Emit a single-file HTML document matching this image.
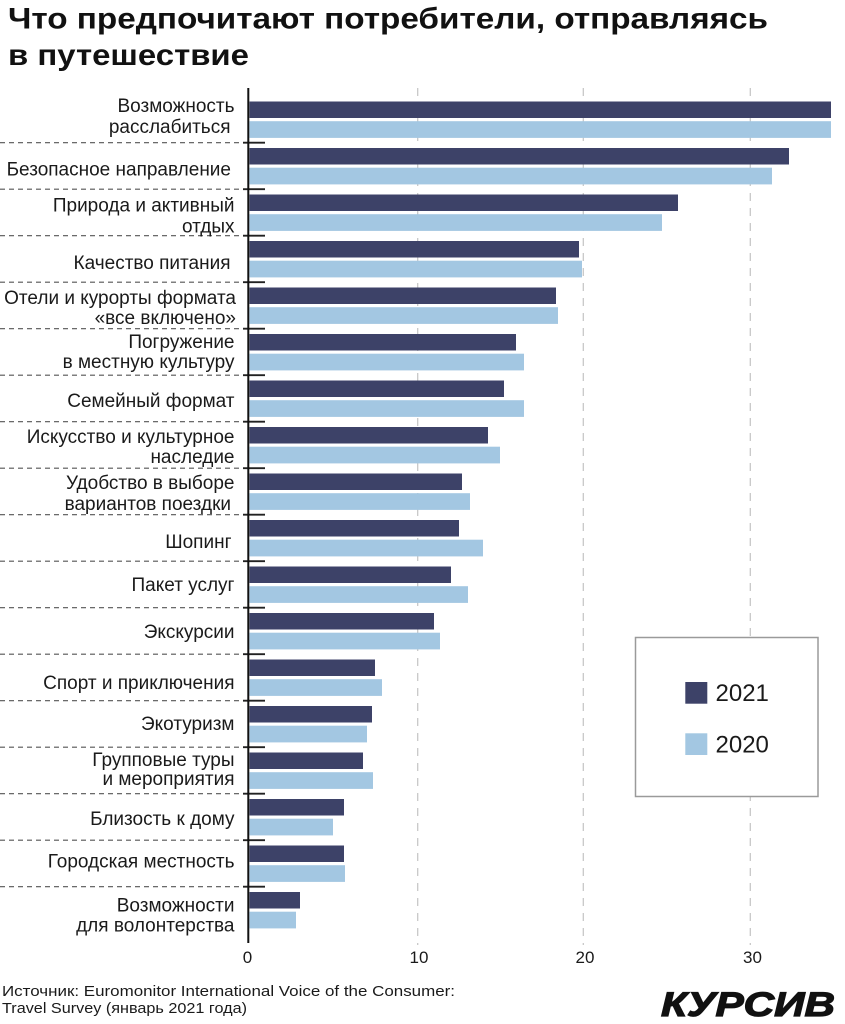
<!DOCTYPE html>
<html>
<head>
<meta charset="utf-8">
<style>
html,body{margin:0;padding:0;background:#fff;}
svg{display:block;}
text{font-family:"Liberation Sans","DejaVu Sans",sans-serif;}
</style>
</head>
<body>
<svg width="845" height="1024" viewBox="0 0 845 1024" xmlns="http://www.w3.org/2000/svg">
<rect width="845" height="1024" fill="#fff"/>

<!-- Title -->
<text x="8" y="28.5" font-size="30" font-weight="bold" fill="#111" textLength="760" lengthAdjust="spacingAndGlyphs">Что предпочитают потребители, отправляясь</text>
<text x="8" y="65" font-size="30" font-weight="bold" fill="#111" textLength="241" lengthAdjust="spacingAndGlyphs">в путешествие</text>

<!-- Gridlines -->
<g stroke="#c8c8c8" stroke-width="1.3" stroke-dasharray="8 7">
<line x1="417.7" y1="88" x2="417.7" y2="945"/>
<line x1="583.3" y1="88" x2="583.3" y2="945"/>
<line x1="750.3" y1="88" x2="750.3" y2="945"/>
</g>

<!-- Separators -->
<g stroke="#555" stroke-width="1.2" stroke-dasharray="5 4">
<line x1="0" y1="142.7" x2="242" y2="142.7"/>
<line x1="0" y1="189.2" x2="242" y2="189.2"/>
<line x1="0" y1="235.7" x2="242" y2="235.7"/>
<line x1="0" y1="282.2" x2="242" y2="282.2"/>
<line x1="0" y1="328.7" x2="242" y2="328.7"/>
<line x1="0" y1="375.2" x2="242" y2="375.2"/>
<line x1="0" y1="421.7" x2="242" y2="421.7"/>
<line x1="0" y1="468.2" x2="242" y2="468.2"/>
<line x1="0" y1="514.7" x2="242" y2="514.7"/>
<line x1="0" y1="561.2" x2="242" y2="561.2"/>
<line x1="0" y1="607.7" x2="242" y2="607.7"/>
<line x1="0" y1="654.2" x2="242" y2="654.2"/>
<line x1="0" y1="700.7" x2="242" y2="700.7"/>
<line x1="0" y1="747.2" x2="242" y2="747.2"/>
<line x1="0" y1="793.7" x2="242" y2="793.7"/>
<line x1="0" y1="840.2" x2="242" y2="840.2"/>
<line x1="0" y1="886.7" x2="242" y2="886.7"/>
</g>
<g stroke="#222" stroke-width="1.8">
<line x1="243" y1="142.7" x2="265" y2="142.7"/>
<line x1="243" y1="189.2" x2="265" y2="189.2"/>
<line x1="243" y1="235.7" x2="265" y2="235.7"/>
<line x1="243" y1="282.2" x2="265" y2="282.2"/>
<line x1="243" y1="328.7" x2="265" y2="328.7"/>
<line x1="243" y1="375.2" x2="265" y2="375.2"/>
<line x1="243" y1="421.7" x2="265" y2="421.7"/>
<line x1="243" y1="468.2" x2="265" y2="468.2"/>
<line x1="243" y1="514.7" x2="265" y2="514.7"/>
<line x1="243" y1="561.2" x2="265" y2="561.2"/>
<line x1="243" y1="607.7" x2="265" y2="607.7"/>
<line x1="243" y1="654.2" x2="265" y2="654.2"/>
<line x1="243" y1="700.7" x2="265" y2="700.7"/>
<line x1="243" y1="747.2" x2="265" y2="747.2"/>
<line x1="243" y1="793.7" x2="265" y2="793.7"/>
<line x1="243" y1="840.2" x2="265" y2="840.2"/>
<line x1="243" y1="886.7" x2="265" y2="886.7"/>
</g>

<!-- Bars 2021 -->
<g fill="#3d4268">
<rect x="249.5" y="101.5" width="581.5" height="16.5"/>
<rect x="249.5" y="148.0" width="539.5" height="16.5"/>
<rect x="249.5" y="194.5" width="428.5" height="16.5"/>
<rect x="249.5" y="241.0" width="329.5" height="16.5"/>
<rect x="249.5" y="287.5" width="306.5" height="16.5"/>
<rect x="249.5" y="334.0" width="266.5" height="16.5"/>
<rect x="249.5" y="380.5" width="254.5" height="16.5"/>
<rect x="249.5" y="427.0" width="238.5" height="16.5"/>
<rect x="249.5" y="473.5" width="212.5" height="16.5"/>
<rect x="249.5" y="520.0" width="209.5" height="16.5"/>
<rect x="249.5" y="566.5" width="201.5" height="16.5"/>
<rect x="249.5" y="613.0" width="184.5" height="16.5"/>
<rect x="249.5" y="659.5" width="125.5" height="16.5"/>
<rect x="249.5" y="706.0" width="122.5" height="16.5"/>
<rect x="249.5" y="752.5" width="113.5" height="16.5"/>
<rect x="249.5" y="799.0" width="94.5" height="16.5"/>
<rect x="249.5" y="845.5" width="94.5" height="16.5"/>
<rect x="249.5" y="892.0" width="50.5" height="16.5"/>
</g>
<!-- Bars 2020 -->
<g fill="#a3c7e2">
<rect x="249.5" y="121.2" width="581.5" height="16.7"/>
<rect x="249.5" y="167.7" width="522.5" height="16.7"/>
<rect x="249.5" y="214.2" width="412.5" height="16.7"/>
<rect x="249.5" y="260.7" width="332.5" height="16.7"/>
<rect x="249.5" y="307.2" width="308.5" height="16.7"/>
<rect x="249.5" y="353.7" width="274.5" height="16.7"/>
<rect x="249.5" y="400.2" width="274.5" height="16.7"/>
<rect x="249.5" y="446.7" width="250.5" height="16.7"/>
<rect x="249.5" y="493.2" width="220.5" height="16.7"/>
<rect x="249.5" y="539.7" width="233.5" height="16.7"/>
<rect x="249.5" y="586.2" width="218.5" height="16.7"/>
<rect x="249.5" y="632.7" width="190.5" height="16.7"/>
<rect x="249.5" y="679.2" width="132.5" height="16.7"/>
<rect x="249.5" y="725.7" width="117.5" height="16.7"/>
<rect x="249.5" y="772.2" width="123.5" height="16.7"/>
<rect x="249.5" y="818.7" width="83.5" height="16.7"/>
<rect x="249.5" y="865.2" width="95.5" height="16.7"/>
<rect x="249.5" y="911.7" width="46.5" height="16.7"/>
</g>

<!-- Axis -->
<line x1="248.3" y1="88" x2="248.3" y2="943" stroke="#111" stroke-width="2"/>

<!-- Category labels -->
<g font-size="19" fill="#1a1a1a" text-anchor="end">
<text x="234.5" y="112">Возможность</text>
<text x="230.5" y="133">расслабиться</text>
<text x="231" y="175.5">Безопасное направление</text>
<text x="234.5" y="211.5">Природа и активный</text>
<text x="234.5" y="232.5">отдых</text>
<text x="230.5" y="269">Качество питания</text>
<text x="236" y="304">Отели и курорты формата</text>
<text x="236" y="324">«все включено»</text>
<text x="234.5" y="348">Погружение</text>
<text x="234.5" y="368">в местную культуру</text>
<text x="234.5" y="407">Семейный формат</text>
<text x="234.5" y="443">Искусство и культурное</text>
<text x="234.5" y="463">наследие</text>
<text x="234.5" y="489">Удобство в выборе</text>
<text x="231" y="510">вариантов поездки</text>
<text x="231.5" y="548">Шопинг</text>
<text x="234.5" y="591">Пакет услуг</text>
<text x="234.5" y="638">Экскурсии</text>
<text x="234.5" y="689">Спорт и приключения</text>
<text x="234.5" y="730">Экотуризм</text>
<text x="234.5" y="766">Групповые туры</text>
<text x="234.5" y="785">и мероприятия</text>
<text x="234.5" y="825">Близость к дому</text>
<text x="234.5" y="867.5">Городская местность</text>
<text x="234.5" y="911.5">Возможности</text>
<text x="234.5" y="931.5">для волонтерства</text>
</g>

<!-- X tick labels -->
<g font-size="17" fill="#1a1a1a" text-anchor="middle">
<text x="247.5" y="963">0</text>
<text x="419" y="963">10</text>
<text x="585" y="963">20</text>
<text x="752.5" y="963">30</text>
</g>

<!-- Legend -->
<rect x="635.5" y="637.5" width="182.5" height="159" fill="#fff" stroke="#9a9a9a" stroke-width="1.5"/>
<rect x="685.3" y="682" width="22" height="21.7" fill="#3d4268"/>
<rect x="685.3" y="733.3" width="22" height="21.7" fill="#a3c7e2"/>
<text x="715.5" y="701" font-size="24" fill="#1a1a1a">2021</text>
<text x="715.5" y="752.3" font-size="24" fill="#1a1a1a">2020</text>

<!-- Source -->
<text x="2" y="996" font-size="15" fill="#1a1a1a" textLength="453" lengthAdjust="spacingAndGlyphs">Источник: Euromonitor International Voice of the Consumer:</text>
<text x="2" y="1013" font-size="15" fill="#1a1a1a" textLength="245" lengthAdjust="spacingAndGlyphs">Travel Survey (январь 2021 года)</text>

<!-- Logo -->
<text x="661" y="1016" font-size="34" font-weight="bold" font-style="italic" fill="#111" stroke="#111" stroke-width="1.2" textLength="174" lengthAdjust="spacingAndGlyphs">КУРСИВ</text>
</svg>
</body>
</html>
